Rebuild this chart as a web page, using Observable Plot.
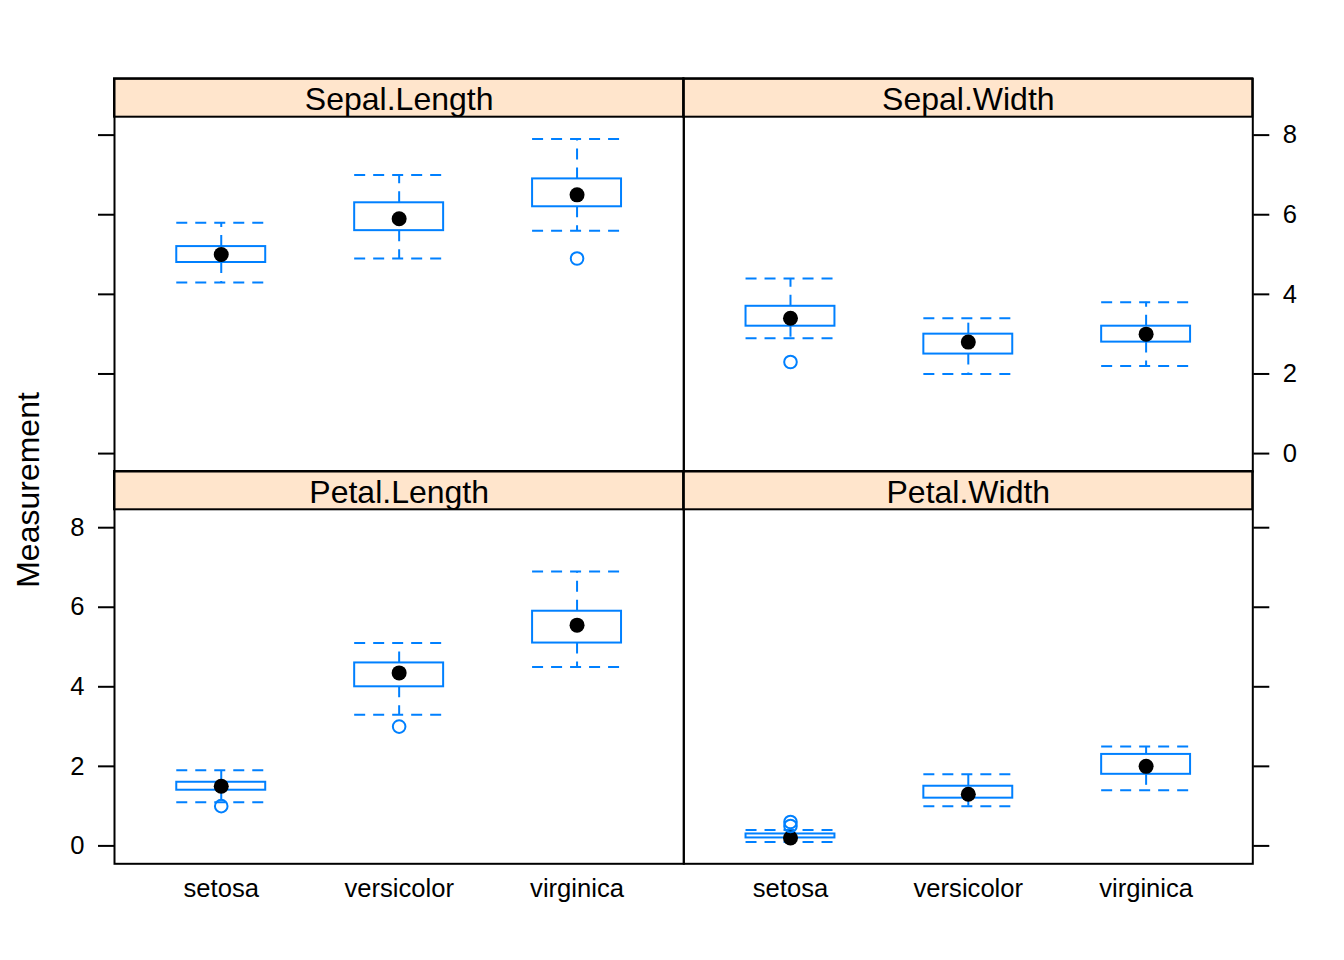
<!DOCTYPE html>
<html>
<head>
<meta charset="utf-8">
<script src="https://cdn.jsdelivr.net/npm/d3@7"></script>
<script src="https://cdn.jsdelivr.net/npm/@observablehq/plot@0.6"></script>
<style>
  body { margin: 0; background: #fff; }
  #chart { position: relative; width: 1344px; height: 960px; font-family: "Liberation Sans", Arial, Helvetica, sans-serif; }
  #chart svg { position: absolute; left: 0; top: 0; }
</style>
</head>
<body>
<div id="chart"></div>
<script>
// ---- data (iris box-and-whisker statistics) ----
const species = ["setosa", "versicolor", "virginica"];
const variables = ["Sepal.Length", "Sepal.Width", "Petal.Length", "Petal.Width"];
const lowerWhisker = [[4.3, 4.9, 5.6], [2.9, 2.0, 2.2], [1.1, 3.3, 4.5], [0.1, 1.0, 1.4]];
const lowerHinge   = [[4.8, 5.6, 6.2], [3.2, 2.5, 2.8], [1.4, 4.0, 5.1], [0.2, 1.2, 1.8]];
const medians      = [[5.0, 5.9, 6.5], [3.4, 2.8, 3.0], [1.5, 4.35, 5.55], [0.2, 1.3, 2.0]];
const upperHinge   = [[5.2, 6.3, 6.9], [3.7, 3.0, 3.2], [1.6, 4.6, 5.9], [0.3, 1.5, 2.3]];
const upperWhisker = [[5.8, 7.0, 7.9], [4.4, 3.4, 3.8], [1.9, 5.1, 6.9], [0.4, 1.8, 2.5]];
const outlierVariable = ["Sepal.Length", "Sepal.Width", "Petal.Length", "Petal.Length", "Petal.Width", "Petal.Width"];
const outlierSpecies  = ["virginica", "setosa", "setosa", "versicolor", "setosa", "setosa"];
const outlierValue    = [4.9, 2.3, 1.0, 3.0, 0.5, 0.6];
const yTicks = [0, 2, 4, 6, 8];
const yLabel = "Measurement";

// ---- styling / layout ----
const BLUE = "#0080ff";
const STRIP = "#ffe5cc";
const FONT = '"Liberation Sans", Arial, Helvetica, sans-serif';
const W = 1344, H = 960;
const colEdges = [114, 683.3, 1252.3];
const rowGeom = [
  {stripTop: 78.3, panelTop: 116.7, panelBottom: 471},
  {stripTop: 471, panelTop: 509.3, panelBottom: 863.3}
];
// panel placement: [variable index, column, row]
const placement = [[0, 0, 0], [1, 1, 0], [2, 0, 1], [3, 1, 1]];
const dash = "11,8";

function panel(v, col, row) {
  const L = colEdges[col], R = colEdges[col + 1];
  const g = rowGeom[row];
  const rows = species.map((s, i) => ({
    s, x: i + 1,
    lo: lowerWhisker[v][i], q1: lowerHinge[v][i], med: medians[v][i],
    q3: upperHinge[v][i], hi: upperWhisker[v][i]
  }));
  const outs = outlierValue
    .map((val, k) => ({variable: outlierVariable[k], x: species.indexOf(outlierSpecies[k]) + 1, y: val}))
    .filter(d => d.variable === variables[v]);

  const stripMark = () => {
    const gEl = d3.create("svg:g");
    gEl.append("rect")
      .attr("x", L).attr("y", g.stripTop)
      .attr("width", R - L).attr("height", g.panelTop - g.stripTop)
      .attr("fill", STRIP).attr("stroke", "black").attr("stroke-width", 2);
    return gEl.node();
  };

  // lattice alternating axes: labels on left for bottom row, on right for top row
  const anchor = col === 0 ? "left" : "right";
  const showLabels = (row === 1 && col === 0) || (row === 0 && col === 1);
  const marks = [
    stripMark,
    Plot.frame({stroke: "black", strokeWidth: 2}),
    Plot.text([variables[v]], {frameAnchor: "top", lineAnchor: "middle", dy: 20.8, fontSize: 32, fill: "black"}),
    Plot.rect(rows, {x1: d => d.x - 0.25, x2: d => d.x + 0.25, y1: "q1", y2: "q3", fill: "none", stroke: BLUE, strokeWidth: 2}),
    Plot.ruleX(rows, {x: "x", y1: "q3", y2: "hi", stroke: BLUE, strokeWidth: 2, strokeDasharray: dash}),
    Plot.ruleX(rows, {x: "x", y1: "q1", y2: "lo", stroke: BLUE, strokeWidth: 2, strokeDasharray: dash}),
    Plot.ruleY(rows, {y: "hi", x1: d => d.x - 0.25, x2: d => d.x + 0.25, stroke: BLUE, strokeWidth: 2, strokeDasharray: dash}),
    Plot.ruleY(rows, {y: "lo", x1: d => d.x - 0.25, x2: d => d.x + 0.25, stroke: BLUE, strokeWidth: 2, strokeDasharray: dash}),
    Plot.dot(rows, {x: "x", y: "med", r: 7.5, fill: "black", stroke: "none"}),
    Plot.dot(outs, {x: "x", y: "y", r: 6.3, fill: "none", stroke: BLUE, strokeWidth: 2}),
    Plot.axisY({anchor, ticks: yTicks, tickSize: 16, tickPadding: 14, strokeWidth: 2, fontSize: 25.6, label: null,
      tickFormat: showLabels ? (d => String(d)) : (() => "")})
  ];
  if (row === 1) {
    marks.push(Plot.axisX({anchor: "bottom", ticks: [1, 2, 3], tickFormat: i => species[i - 1], tickSize: 0, tickPadding: 15, fontSize: 25.6, label: null}));
  }
  return Plot.plot({
    width: W, height: H,
    marginLeft: L, marginRight: W - R, marginTop: g.stripTop, marginBottom: H - g.panelBottom,
    style: {background: "transparent", overflow: "visible", fontFamily: FONT, color: "black"},
    x: {type: "linear", domain: [0.4, 3.6], range: [L, R], axis: null, label: null},
    y: {type: "linear", domain: [-0.45, 8.45], range: [g.panelBottom, g.panelTop], axis: null, label: null},
    marks
  });
}

const chart = document.getElementById("chart");
for (const [v, col, row] of placement) chart.appendChild(panel(v, col, row));

// y-axis title
const lab = d3.create("svg").attr("width", W).attr("height", H)
  .style("background", "transparent").style("pointer-events", "none");
lab.append("text")
  .attr("transform", "translate(39,490) rotate(-90)")
  .attr("text-anchor", "middle")
  .attr("font-family", FONT).attr("font-size", 32).attr("fill", "black")
  .text(yLabel);
chart.appendChild(lab.node());
</script>
</body>
</html>
